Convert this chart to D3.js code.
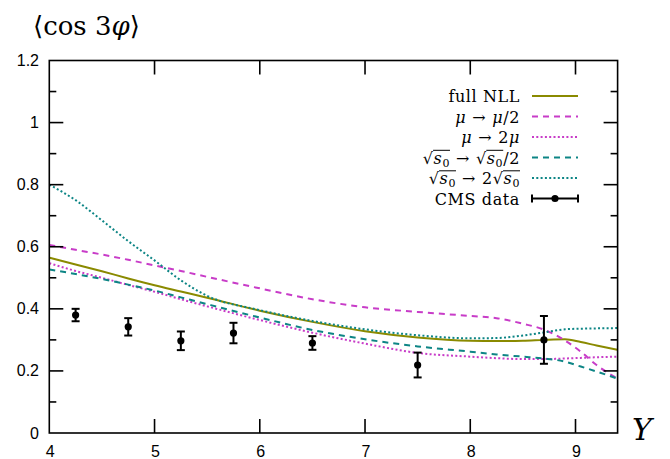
<!DOCTYPE html>
<html><head><meta charset="utf-8">
<script src="https://cdn.jsdelivr.net/npm/d3@7"></script>
<style>body{margin:0;background:#fff}svg{display:block}</style>
</head><body>
<svg id="c" width="670" height="459"></svg>
<script>
// ---- data ----
const gridY = [4.0, 4.25, 4.5, 4.75, 5.0, 5.25, 5.5, 6.0, 6.5, 7.0, 7.5, 8.0, 8.25, 8.5, 8.7, 8.9, 9.05, 9.2, 9.4];
const fullNLL   = [0.565,0.543,0.521,0.498,0.476,0.456,0.436,0.394,0.358,0.328,0.308,0.297,0.296,0.297,0.300,0.302,0.293,0.282,0.268];
const muHalf    = [0.606,0.590,0.575,0.558,0.540,0.522,0.503,0.466,0.431,0.405,0.390,0.377,0.370,0.352,0.333,0.298,0.262,0.219,0.175];
const muDouble  = [0.547,0.522,0.500,0.477,0.455,0.431,0.408,0.364,0.323,0.288,0.258,0.246,0.241,0.238,0.238,0.240,0.242,0.244,0.246];
const s0Half    = [0.527,0.512,0.496,0.478,0.459,0.437,0.415,0.372,0.332,0.302,0.279,0.262,0.253,0.246,0.240,0.230,0.214,0.198,0.175];
const s0Double  = [0.800,0.750,0.685,0.618,0.556,0.492,0.442,0.396,0.361,0.334,0.315,0.305,0.306,0.314,0.324,0.334,0.336,0.337,0.338];
const cmsY   = [4.25, 4.75, 5.25, 5.75, 6.5, 7.5, 8.7];
const cmsVal = [0.380, 0.342, 0.297, 0.322, 0.290, 0.219, 0.300];
const cmsErr = [0.020, 0.028, 0.030, 0.033, 0.022, 0.040, 0.077];
const xTickVals = [4, 5, 6, 7, 8, 9];
const yTickVals = [0, 0.2, 0.4, 0.6, 0.8, 1.0, 1.2];
const yTickLabels = ["0", "0.2", "0.4", "0.6", "0.8", "1", "1.2"];
const yMinorVals = [0.1, 0.3, 0.5, 0.7, 0.9, 1.1];

// ---- layout ----
const L = 49.3, R = 617.6, T = 60.5, B = 433;
const svg = d3.select("#c");
const x = d3.scaleLinear().domain([4, 9.4]).range([L, R]);
const y = d3.scaleLinear().domain([0, 1.2]).range([B, T]);

const OLIVE = "#8a8a00", MAG = "#c83cc8", TEAL = "#0d8585";
const series = [
  {vals: fullNLL,  color: OLIVE, dash: null},
  {vals: muHalf,   color: MAG,   dash: "6,5"},
  {vals: muDouble, color: MAG,   dash: "2,2.3"},
  {vals: s0Half,   color: TEAL,  dash: "6,5"},
  {vals: s0Double, color: TEAL,  dash: "2,2.3"}
];

svg.append("defs").append("clipPath").attr("id", "pc")
  .append("rect").attr("x", L).attr("y", T).attr("width", R - L).attr("height", B - T);

const line = d3.line().x(d => x(d[0])).y(d => y(d[1])).curve(d3.curveMonotoneX);
const plot = svg.append("g").attr("clip-path", "url(#pc)");
series.forEach(s => {
  plot.append("path").datum(gridY.map((g, i) => [g, s.vals[i]]))
    .attr("d", line).attr("fill", "none").attr("stroke", s.color)
    .attr("stroke-width", 2).attr("stroke-dasharray", s.dash);
});

// CMS data
const cms = svg.append("g");
cmsY.forEach((cy, i) => {
  const px = x(cy), y1 = y(cmsVal[i] + cmsErr[i]), y0 = y(cmsVal[i] - cmsErr[i]);
  cms.append("line").attr("x1", px).attr("x2", px).attr("y1", y1).attr("y2", y0).attr("stroke", "#000").attr("stroke-width", 2);
  [y1, y0].forEach(yy => cms.append("line").attr("x1", px - 4).attr("x2", px + 4).attr("y1", yy).attr("y2", yy).attr("stroke", "#000").attr("stroke-width", 2));
  cms.append("circle").attr("cx", px).attr("cy", y(cmsVal[i])).attr("r", 3.6).attr("fill", "#000");
});

// ---- axes / frame ----
const ax = svg.append("g").attr("stroke", "#000").attr("stroke-width", 1.6);
ax.append("rect").attr("x", L).attr("y", T).attr("width", R - L).attr("height", B - T).attr("fill", "none");
xTickVals.forEach(v => {
  if (v === 4) return;
  ax.append("line").attr("x1", x(v)).attr("x2", x(v)).attr("y1", B).attr("y2", B - 14);
  ax.append("line").attr("x1", x(v)).attr("x2", x(v)).attr("y1", T).attr("y2", T + 14);
});
yTickVals.forEach(v => {
  if (v === 0 || v === 1.2) return;
  ax.append("line").attr("x1", L).attr("x2", L + 14).attr("y1", y(v)).attr("y2", y(v));
  ax.append("line").attr("x1", R).attr("x2", R - 14).attr("y1", y(v)).attr("y2", y(v));
});
yMinorVals.forEach(v => {
  ax.append("line").attr("x1", L).attr("x2", L + 7).attr("y1", y(v)).attr("y2", y(v));
  ax.append("line").attr("x1", R).attr("x2", R - 7).attr("y1", y(v)).attr("y2", y(v));
});

const tickFont = "'Liberation Sans', Arial, sans-serif";
svg.append("g").selectAll("text").data(xTickVals).join("text")
  .attr("x", d => x(d) + 1).attr("y", 457).attr("text-anchor", "middle")
  .attr("font-family", tickFont).attr("font-size", 16).text(d => d);
svg.append("g").selectAll("text").data(yTickVals).join("text")
  .attr("x", 39).attr("y", d => y(d) + 5.5).attr("text-anchor", "end")
  .attr("font-family", tickFont).attr("font-size", 16).text((d, i) => yTickLabels[i]);

const serif = "'DejaVu Serif', 'Liberation Serif', serif";
svg.append("text").attr("x", 632).attr("y", 440).attr("font-family", serif)
  .attr("font-style", "italic").attr("font-size", 30).text("Y");

// title
const title = svg.append("text").attr("x", 33).attr("y", 35).attr("font-family", serif).attr("font-size", 26);
title.append("tspan").text("⟨cos 3");
title.append("tspan").attr("font-style", "italic").text("φ");
title.append("tspan").text("⟩");

// ---- legend ----
const ARW = {t: "→", dx: 6, after: 6};
const legendRows = [
  {segs: [{t: "full NLL"}], color: OLIVE, dash: null},
  {segs: [{t: "μ", i: 1}, ARW, {t: "μ", i: 1}, {t: "/2"}], color: MAG, dash: "6,5"},
  {segs: [{t: "μ", i: 1}, ARW, {t: "2"}, {t: "μ", i: 1}], color: MAG, dash: "2,2.3"},
  {segs: [{t: "√"}, {t: "s", i: 1, o: 1}, {t: "0", sub: 1, o: 1}, ARW, {t: "√"}, {t: "s", i: 1, o: 1}, {t: "0", sub: 1, o: 1}, {t: "/2"}], color: TEAL, dash: "6,5"},
  {segs: [{t: "√"}, {t: "s", i: 1, o: 1}, {t: "0", sub: 1, o: 1}, ARW, {t: "2"}, {t: "√"}, {t: "s", i: 1, o: 1}, {t: "0", sub: 1, o: 1}], color: TEAL, dash: "2,2.3"},
  {segs: [{t: "CMS data"}], color: "#000", dash: null, cms: true}
];
const rowY = [96, 116.5, 137, 157.5, 178, 198.5];
const legX0 = 532, legX1 = 578, textRight = 520;
legendRows.forEach((row, r) => {
  const g = svg.append("g");
  const txt = g.append("text").attr("x", 0).attr("y", 0).attr("font-family", serif)
    .attr("font-size", 16).attr("letter-spacing", 0.6).style("white-space", "pre");
  let ci = 0, curDy = 0, pendDx = 0;
  const spans = [];
  row.segs.forEach(s => {
    const target = s.sub ? 3 : 0;
    txt.append("tspan").attr("dy", target - curDy).attr("dx", (s.dx || 0) + pendDx)
      .attr("font-size", s.sub ? 11 : 16)
      .attr("font-style", s.i ? "italic" : "normal").text(s.t);
    pendDx = s.after || 0;
    curDy = target;
    spans.push({start: ci, end: ci + s.t.length - 1, o: s.o});
    ci += s.t.length;
  });
  const node = txt.node();
  const bb = node.getBBox();
  const total = bb.x + bb.width;
  let i = 0;
  while (i < spans.length) {
    if (spans[i].o) {
      let j = i;
      while (j + 1 < spans.length && spans[j + 1].o) j++;
      const x1 = node.getStartPositionOfChar(spans[i].start).x;
      const x2 = node.getEndPositionOfChar(spans[j].end).x;
      g.append("line").attr("x1", x1 - 0.5).attr("x2", x2).attr("y1", -13.2).attr("y2", -13.2)
        .attr("stroke", "#000").attr("stroke-width", 1);
      i = j + 1;
    } else i++;
  }
  g.attr("transform", `translate(${textRight - total},${rowY[r] + 6})`);
  const ly = rowY[r];
  svg.append("line").attr("x1", legX0).attr("x2", legX1).attr("y1", ly).attr("y2", ly)
    .attr("stroke", row.color).attr("stroke-width", 2).attr("stroke-dasharray", row.dash);
  if (row.cms) {
    [legX0, legX1].forEach(xx => svg.append("line").attr("x1", xx).attr("x2", xx)
      .attr("y1", ly - 4).attr("y2", ly + 4).attr("stroke", "#000").attr("stroke-width", 2));
    svg.append("circle").attr("cx", (legX0 + legX1) / 2).attr("cy", ly).attr("r", 3.6).attr("fill", "#000");
  }
});
</script>
</body></html>
